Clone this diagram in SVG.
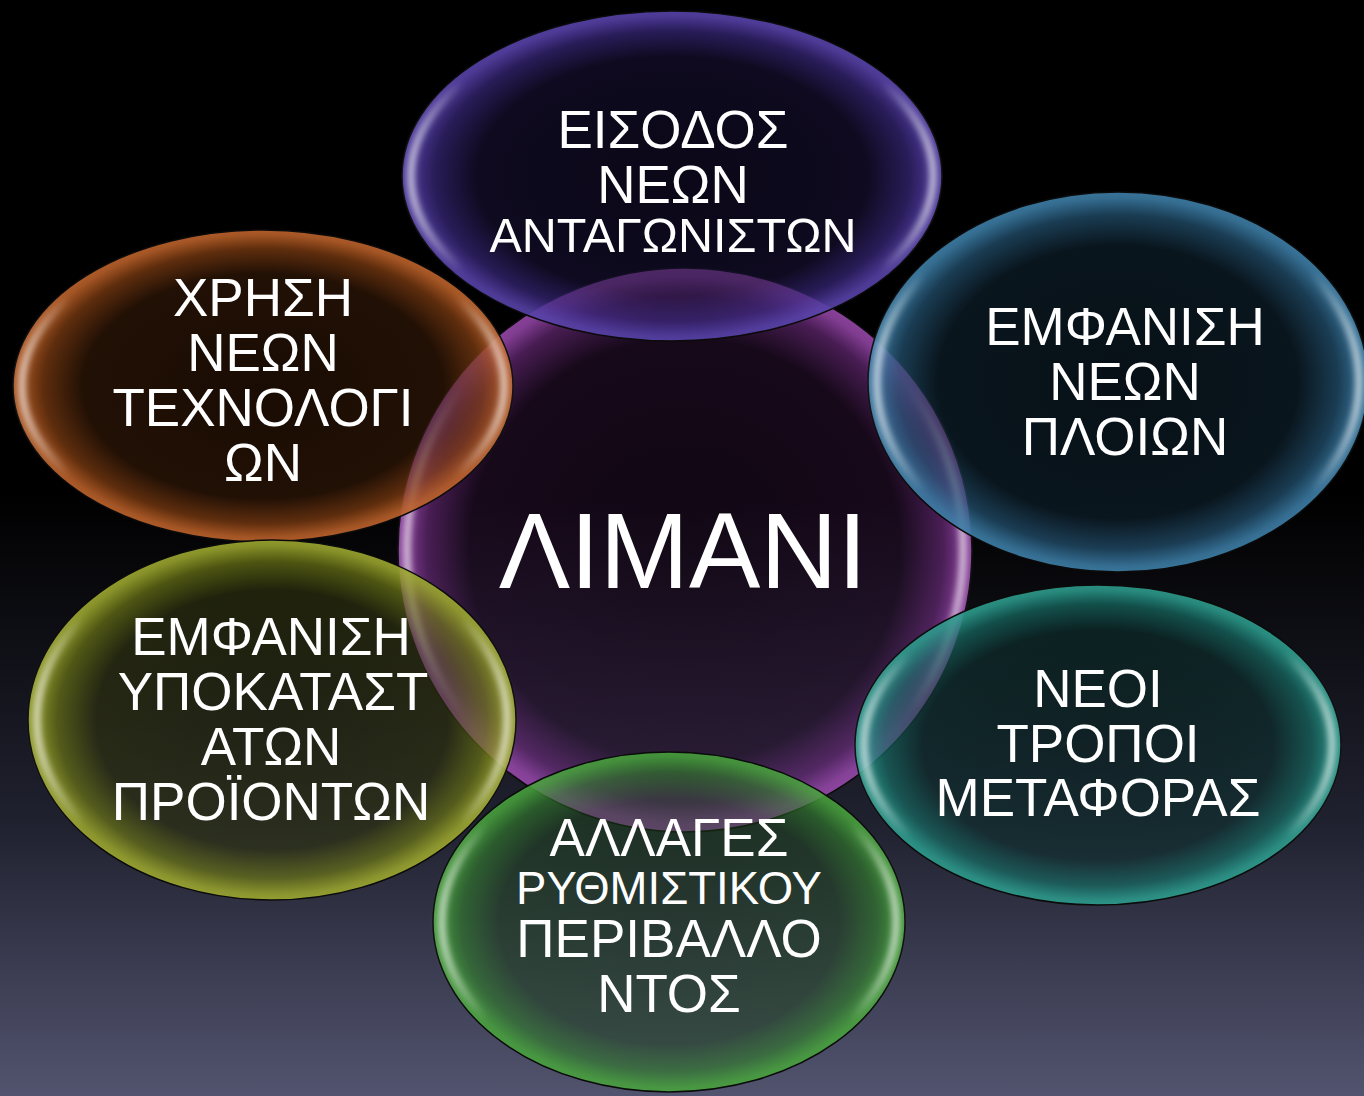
<svg xmlns="http://www.w3.org/2000/svg" width="1364" height="1096" viewBox="0 0 1364 1096">
<style>
.t{font-family:"Liberation Sans",Arial,sans-serif;fill:#fff;text-anchor:middle}
.base{stroke:none}
.rim{stroke:#0b0b0b;stroke-width:1.5}
.hl{fill:none;stroke:url(#hlg);stroke-width:7;filter:url(#blur)}
</style>
<defs>
<linearGradient id="bg" x1="0" y1="0" x2="0" y2="1">
<stop offset="0" stop-color="#000"/>
<stop offset="0.45" stop-color="#000"/>
<stop offset="0.75" stop-color="#20212f"/>
<stop offset="1" stop-color="#52546f"/>
</linearGradient>
<linearGradient id="hlg" x1="0" y1="0" x2="1" y2="0">
<stop offset="0" stop-color="#fff" stop-opacity="0.7"/>
<stop offset="0.1" stop-color="#fff" stop-opacity="0"/>
<stop offset="0.9" stop-color="#fff" stop-opacity="0"/>
<stop offset="1" stop-color="#fff" stop-opacity="0.7"/>
</linearGradient>
<filter id="blur" x="-10%" y="-10%" width="120%" height="120%"><feGaussianBlur stdDeviation="3"/></filter>
<radialGradient id="gTop"><stop offset="0" stop-color="#5b3fc4" stop-opacity="0.12"/><stop offset="0.72" stop-color="#5b3fc4" stop-opacity="0.16"/><stop offset="0.88" stop-color="#5b3fc4" stop-opacity="0.45"/><stop offset="0.97" stop-color="#5f48b8" stop-opacity="0.8"/><stop offset="1" stop-color="#5f48b8" stop-opacity="0.85"/></radialGradient>
<radialGradient id="gCen"><stop offset="0" stop-color="#a040b8" stop-opacity="0.1"/><stop offset="0.75" stop-color="#a040b8" stop-opacity="0.14"/><stop offset="0.9" stop-color="#a040b8" stop-opacity="0.45"/><stop offset="0.97" stop-color="#a04cb4" stop-opacity="0.8"/><stop offset="1" stop-color="#a04cb4" stop-opacity="0.85"/></radialGradient>
<radialGradient id="gOra"><stop offset="0" stop-color="#d2651e" stop-opacity="0.12"/><stop offset="0.72" stop-color="#d2651e" stop-opacity="0.16"/><stop offset="0.88" stop-color="#d2651e" stop-opacity="0.45"/><stop offset="0.97" stop-color="#cc6a2e" stop-opacity="0.8"/><stop offset="1" stop-color="#cc6a2e" stop-opacity="0.85"/></radialGradient>
<radialGradient id="gBlu"><stop offset="0" stop-color="#3a86b8" stop-opacity="0.12"/><stop offset="0.72" stop-color="#3a86b8" stop-opacity="0.16"/><stop offset="0.88" stop-color="#3a86b8" stop-opacity="0.45"/><stop offset="0.97" stop-color="#4288b4" stop-opacity="0.8"/><stop offset="1" stop-color="#4288b4" stop-opacity="0.85"/></radialGradient>
<radialGradient id="gOli"><stop offset="0" stop-color="#a8b820" stop-opacity="0.12"/><stop offset="0.72" stop-color="#a8b820" stop-opacity="0.16"/><stop offset="0.88" stop-color="#a8b820" stop-opacity="0.45"/><stop offset="0.97" stop-color="#a8b432" stop-opacity="0.8"/><stop offset="1" stop-color="#a8b432" stop-opacity="0.85"/></radialGradient>
<radialGradient id="gTea"><stop offset="0" stop-color="#22a89a" stop-opacity="0.12"/><stop offset="0.72" stop-color="#22a89a" stop-opacity="0.16"/><stop offset="0.88" stop-color="#22a89a" stop-opacity="0.45"/><stop offset="0.97" stop-color="#30a898" stop-opacity="0.8"/><stop offset="1" stop-color="#30a898" stop-opacity="0.85"/></radialGradient>
<radialGradient id="gGre"><stop offset="0" stop-color="#44b03a" stop-opacity="0.14"/><stop offset="0.72" stop-color="#44b03a" stop-opacity="0.18"/><stop offset="0.88" stop-color="#44b03a" stop-opacity="0.45"/><stop offset="0.97" stop-color="#4cac40" stop-opacity="0.8"/><stop offset="1" stop-color="#4cac40" stop-opacity="0.85"/></radialGradient>
</defs>
<rect width="1364" height="1096" fill="url(#bg)"/>
<g id="connectors"/>
<g id="n-limani">
<ellipse cx="685" cy="550" rx="287" ry="282" fill="#000" fill-opacity="0.2" class="base"/>
<ellipse cx="685" cy="550" rx="287" ry="282" fill="url(#gCen)" class="rim"/>
<ellipse cx="685" cy="550" rx="278" ry="273" class="hl"/>
<text class="t" x="683" y="588" font-size="107">ΛΙΜΑΝΙ</text>
</g>
<g id="n-eisodos">
<ellipse cx="672" cy="176" rx="270" ry="165" fill="#000" fill-opacity="0.45" class="base"/>
<ellipse cx="672" cy="176" rx="270" ry="165" fill="url(#gTop)" class="rim"/>
<ellipse cx="672" cy="176" rx="261" ry="156" class="hl"/>
<text class="t" x="673" y="148" font-size="53">ΕΙΣΟΔΟΣ</text>
<text class="t" x="673" y="203" font-size="53">ΝΕΩΝ</text>
<text class="t" x="673" y="252" font-size="48.5">ΑΝΤΑΓΩΝΙΣΤΩΝ</text>
</g>
<g id="n-xrisi">
<ellipse cx="263" cy="386" rx="250" ry="156" fill="#000" fill-opacity="0.45" class="base"/>
<ellipse cx="263" cy="386" rx="250" ry="156" fill="url(#gOra)" class="rim"/>
<ellipse cx="263" cy="386" rx="241" ry="147" class="hl"/>
<text class="t" x="263" y="316" font-size="53">ΧΡΗΣΗ</text>
<text class="t" x="263" y="371" font-size="53">ΝΕΩΝ</text>
<text class="t" x="263" y="426" font-size="53">ΤΕΧΝΟΛΟΓΙ</text>
<text class="t" x="263" y="481" font-size="53">ΩΝ</text>
</g>
<g id="n-ploia">
<ellipse cx="1118" cy="382" rx="250" ry="190" fill="#000" fill-opacity="0.45" class="base"/>
<ellipse cx="1118" cy="382" rx="250" ry="190" fill="url(#gBlu)" class="rim"/>
<ellipse cx="1118" cy="382" rx="241" ry="181" class="hl"/>
<text class="t" x="1125" y="345" font-size="53">ΕΜΦΑΝΙΣΗ</text>
<text class="t" x="1125" y="400" font-size="53">ΝΕΩΝ</text>
<text class="t" x="1125" y="455" font-size="53">ΠΛΟΙΩΝ</text>
</g>
<g id="n-ypokatastata">
<ellipse cx="272" cy="720" rx="244" ry="180" fill="#000" fill-opacity="0.4" class="base"/>
<ellipse cx="272" cy="720" rx="244" ry="180" fill="url(#gOli)" class="rim"/>
<ellipse cx="272" cy="720" rx="235" ry="171" class="hl"/>
<text class="t" x="271" y="655" font-size="53">ΕΜΦΑΝΙΣΗ</text>
<text class="t" x="273" y="710" font-size="53">ΥΠΟΚΑΤΑΣΤ</text>
<text class="t" x="271" y="765" font-size="53">ΑΤΩΝ</text>
<text class="t" x="271" y="820" font-size="53">ΠΡΟΪΟΝΤΩΝ</text>
</g>
<g id="n-metafora">
<ellipse cx="1098" cy="745" rx="243" ry="160" fill="#000" fill-opacity="0.4" class="base"/>
<ellipse cx="1098" cy="745" rx="243" ry="160" fill="url(#gTea)" class="rim"/>
<ellipse cx="1098" cy="745" rx="234" ry="151" class="hl"/>
<text class="t" x="1098" y="707" font-size="53">ΝΕΟΙ</text>
<text class="t" x="1098" y="762" font-size="53">ΤΡΟΠΟΙ</text>
<text class="t" x="1098" y="816" font-size="53">ΜΕΤΑΦΟΡΑΣ</text>
</g>
<g id="n-rythmistiko">
<ellipse cx="669" cy="922" rx="236" ry="170" fill="#000" fill-opacity="0.3" class="base"/>
<ellipse cx="669" cy="922" rx="236" ry="170" fill="url(#gGre)" class="rim"/>
<ellipse cx="669" cy="922" rx="227" ry="161" class="hl"/>
<text class="t" x="669" y="856" font-size="53">ΑΛΛΑΓΕΣ</text>
<text class="t" x="669" y="904" font-size="45.5">ΡΥΘΜΙΣΤΙΚΟΥ</text>
<text class="t" x="669" y="957" font-size="53">ΠΕΡΙΒΑΛΛΟ</text>
<text class="t" x="669" y="1012" font-size="53">ΝΤΟΣ</text>
</g>
</svg>
